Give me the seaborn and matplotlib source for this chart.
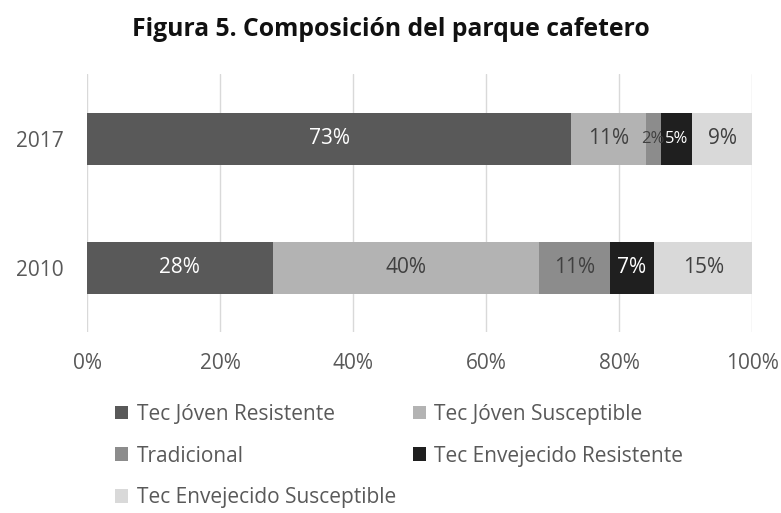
import pandas as pd
import numpy as np
import seaborn as sns
import matplotlib.pyplot as plt
from matplotlib.patches import Patch

anios = ['2017', '2010']
categorias = ['Tec Jóven Resistente', 'Tec Jóven Susceptible', 'Tradicional',
              'Tec Envejecido Resistente', 'Tec Envejecido Susceptible']
valores_2017 = [72.8, 11.2, 2.3, 4.7, 9.0]
valores_2010 = [27.9, 40.0, 10.7, 6.7, 14.7]
colores = ['#595959', '#b3b3b3', '#8c8c8c', '#1f1f1f', '#d9d9d9']
color_texto = ['white', '#404040', '#404040', 'white', '#404040']

sns.set_theme(style='white')
plt.rcParams['font.family'] = ['Open Sans', 'DejaVu Sans']

df = pd.DataFrame([valores_2017, valores_2010], index=anios, columns=categorias)
acum = df.cumsum(axis=1)

fig = plt.figure(figsize=(7.81, 5.13), dpi=100)
ax = fig.add_axes([0.1114, 0.352, 0.8515, 0.503])

# barras apiladas: se dibuja del acumulado mayor al menor
for i in range(len(categorias) - 1, -1, -1):
    d = pd.DataFrame({'anio': anios, 'valor': acum.iloc[:, i].values})
    sns.barplot(data=d, x='valor', y='anio', order=anios, color=colores[i],
                saturation=1, width=0.4, ax=ax, orient='h',
                linewidth=0, edgecolor='none')

for j, anio in enumerate(anios):
    for i, cat in enumerate(categorias):
        v = df.loc[anio, cat]
        centro = acum.loc[anio, cat] - v / 2
        # segmentos angostos con letra algo menor para que no se pisen
        tam = 12 if v < 6 else 15
        ax.text(centro, j, f'{v:.0f}%', ha='center', va='center',
                fontsize=tam, color=color_texto[i])

ax.set_xlim(0, 100)
ax.set_ylim(1.5, -0.5)
ax.set_xticks([0, 20, 40, 60, 80, 100])
ax.set_xticklabels([f'{t}%' for t in [0, 20, 40, 60, 80, 100]])
ax.xaxis.grid(True, color='#d9d9d9', linewidth=1)
ax.set_axisbelow(True)
ax.set_xlabel('')
ax.set_ylabel('')
for s in ax.spines.values():
    s.set_visible(False)
ax.tick_params(axis='x', length=0, pad=15, labelsize=15, labelcolor='#595959')
ax.tick_params(axis='y', length=0, pad=17, labelsize=15, labelcolor='#595959')

# leyenda por filas: se reordena porque matplotlib llena por columnas
orden = [0, 2, 4, 1, 3]
handles = [Patch(facecolor=colores[k], edgecolor='none') for k in orden]
etiquetas = [categorias[k] for k in orden]
fig.legend(handles, etiquetas, loc='upper left', bbox_to_anchor=(0.147, 0.213),
           ncol=2, frameon=False, fontsize=15, labelcolor='#595959',
           handlelength=0.62, handleheight=0.62, handletextpad=0.43,
           labelspacing=1.0, columnspacing=0.8, borderaxespad=0, borderpad=0)

fig.text(0.5, 1 - 30 / 513, 'Figura 5. Composición del parque cafetero',
         fontsize=17.8, fontweight='bold', ha='center', va='center', color='#111111')

fig.savefig('out.png', dpi=100)
